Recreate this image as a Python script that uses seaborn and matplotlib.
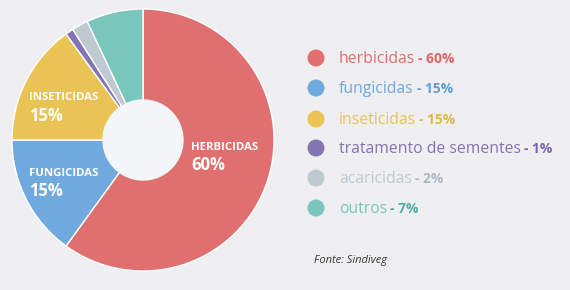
import matplotlib
matplotlib.use("Agg")
import matplotlib.pyplot as plt
import seaborn as sns

categories = ["herbicidas", "fungicidas", "inseticidas", "tratamento de sementes", "acaricidas", "outros"]
values = [60, 15, 15, 1, 2, 7]
pct_labels = ["60%", "15%", "15%", "1%", "2%", "7%"]
inner_labels = ["HERBICIDAS", "FUNGICIDAS", "INSETICIDAS"]
colors = ["#e07070", "#6fa9dd", "#e9c455", "#8474b3", "#bec9d2", "#79c6bc"]
pct_colors = ["#df6464", "#5f9fd8", "#e2b946", "#7a68ab", "#aeb8c4", "#4fb0a5"]
source = "Fonte: Sindiveg"

sns.set_theme(style="white", palette=colors)
plt.rcParams['font.family'] = ['Open Sans', 'DejaVu Sans']
bg = "#efeff2"

fig = plt.figure(figsize=(5.7, 2.9), dpi=100, facecolor=bg)
W, H = 570, 290
cx, cy, r = 143, 140, 131
ax = fig.add_axes([(cx - r) / W, (H - cy - r) / H, 2 * r / W, 2 * r / H])
ax.set_facecolor(bg)
wedges, _ = ax.pie(values, colors=sns.color_palette(colors), startangle=90, counterclock=False,
                   radius=1, wedgeprops=dict(linewidth=1, edgecolor="white"))
ax.add_artist(plt.Circle((0, 0), 40 / r, color="#f3f6f8", zorder=5))
ax.set_xlim(-1, 1)
ax.set_ylim(-1, 1)
ax.axis("off")

# overlay in pixel coordinates
ov = fig.add_axes([0, 0, 1, 1])
ov.set_xlim(0, W)
ov.set_ylim(H, 0)
ov.axis("off")
ov.patch.set_alpha(0)

inner_pos = [(191, 147), (29, 173), (29, 98)]
for lab, pct, (x, y) in zip(inner_labels, pct_labels[:3], inner_pos):
    ov.text(x, y, lab, color="white", fontsize=8.2, fontweight="bold", va="center", ha="left", zorder=10)
    ov.text(x, y + 18, pct, color="white", fontsize=12, fontweight="bold", va="center", ha="left", zorder=10)

rows = [58, 88, 119, 148, 178, 208]
ov.scatter([316] * len(rows), rows, s=150, c=colors, edgecolors="none", zorder=10)
fig.canvas.draw()
renderer = fig.canvas.get_renderer()
inv = ov.transData.inverted()
for cat, pct, col, pcol, y in zip(categories, pct_labels, colors, pct_colors, rows):
    t = ov.text(339, y + 5, cat, color=col, fontsize=11.3, va="baseline", ha="left")
    bb = t.get_window_extent(renderer=renderer)
    x_end = inv.transform((bb.x1, bb.y0))[0]
    ov.text(x_end + 3, y + 5, "- " + pct, color=pcol, fontsize=10, fontweight="bold", va="baseline", ha="left")

ov.text(314, 261, source, color="#3a3a3a", fontsize=8, style="italic", va="center", ha="left")

fig.savefig("out.png", dpi=100, facecolor=bg)
